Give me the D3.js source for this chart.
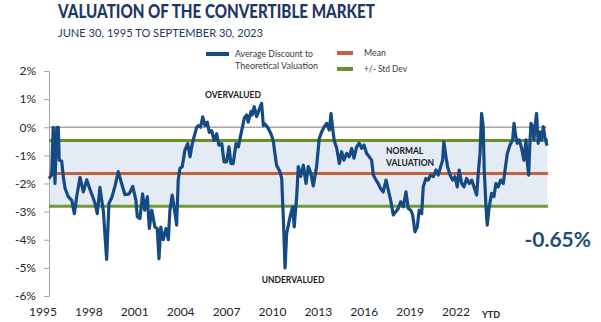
<!DOCTYPE html>
<html>
<head>
<meta charset="utf-8">
<script src="https://cdn.jsdelivr.net/npm/d3@7/dist/d3.min.js"></script>
<style>
  body { margin: 0; background: #fff; }
  svg { display: block; font-family: Lato, "Open Sans", sans-serif; }
</style>
</head>
<body>
<script>
// decimal year of each reading
const years = [
  1995.5, 1995.65, 1995.74, 1995.84, 1995.94, 1996.03, 1996.08, 1996.22, 1996.31, 1996.41,
  1996.59, 1996.79, 1996.94, 1997.07, 1997.26, 1997.45, 1997.64, 1997.83, 1997.98, 1998.11,
  1998.24, 1998.39, 1998.49, 1998.58, 1998.77, 1998.9, 1999.06, 1999.24, 1999.43, 1999.62,
  1999.81, 2000.05, 2000.25, 2000.43, 2000.51, 2000.66, 2000.81, 2000.93, 2001.08, 2001.19,
  2001.33, 2001.51, 2001.64, 2001.74, 2001.84, 2001.98, 2002.14, 2002.27, 2002.36, 2002.49,
  2002.65, 2002.74, 2002.83, 2002.93, 2003.06, 2003.21, 2003.37, 2003.5, 2003.63, 2003.78,
  2003.88, 2003.97, 2004.1, 2004.22, 2004.35, 2004.48, 2004.59, 2004.73, 2004.86, 2005.01,
  2005.14, 2005.3, 2005.43, 2005.58, 2005.71, 2005.82, 2005.95, 2006.11, 2006.24, 2006.43,
  2006.58, 2006.71, 2006.8, 2006.96, 2007.03, 2007.14, 2007.28, 2007.41, 2007.56, 2007.66,
  2007.75, 2007.9, 2008.09, 2008.22, 2008.32, 2008.41, 2008.6, 2008.7, 2008.79, 2008.89,
  2008.98, 2009.17, 2009.32, 2009.41, 2009.55, 2009.64, 2009.78, 2009.93, 2010.08, 2010.21,
  2010.36, 2010.49, 2010.68, 2010.83, 2010.97, 2011.1, 2011.25, 2011.4, 2011.5, 2011.59,
  2011.68, 2011.82, 2011.97, 2012.1, 2012.23, 2012.39, 2012.53, 2012.67, 2012.8, 2012.95,
  2013.1, 2013.24, 2013.37, 2013.52, 2013.67, 2013.8, 2013.9, 2014.05, 2014.18, 2014.31,
  2014.46, 2014.62, 2014.75, 2014.88, 2015.03, 2015.18, 2015.31, 2015.45, 2015.6, 2015.75,
  2015.88, 2016.02, 2016.13, 2016.26, 2016.39, 2016.5, 2016.64, 2016.73, 2016.88, 2017.01,
  2017.15, 2017.3, 2017.45, 2017.58, 2017.72, 2017.83, 2017.9, 2018.02, 2018.11, 2018.25,
  2018.4, 2018.53, 2018.66, 2018.77, 2018.91, 2019.04, 2019.19, 2019.34, 2019.48, 2019.61,
  2019.76, 2019.85, 2019.95, 2020.04, 2020.13, 2020.19, 2020.29, 2020.36, 2020.47, 2020.61,
  2020.74, 2020.85, 2020.98, 2021.12, 2021.27, 2021.37, 2021.5, 2021.65, 2021.8, 2021.88,
  2021.97, 2022.06, 2022.18, 2022.31, 2022.44, 2022.56, 2022.63, 2022.71, 2022.78, 2022.84,
  2022.94, 2023.01, 2023.09, 2023.16, 2023.25, 2023.35, 2023.44, 2023.54, 2023.63, 2023.75
];

// average discount to theoretical valuation, %
const discount = [
  -1.82, -1.7, 0.0, -2.0, 0.0, 0.0, -1.17, -1.2, -1.76, -2.17,
  -2.47, -2.6, -3.07, -2.47, -1.78, -2.3, -1.87, -2.22, -2.47, -2.71,
  -3.07, -2.14, -2.6, -2.95, -4.7, -2.71, -2.5, -2.1, -1.58, -2.0,
  -2.4, -2.37, -2.1, -2.6, -3.18, -3.25, -2.37, -2.95, -2.47, -3.6,
  -2.95, -3.55, -3.6, -4.67, -3.55, -4.0, -3.6, -4.0, -2.95, -2.41,
  -3.07, -3.48, -1.88, -1.46, -1.4, -0.81, -0.58, -1.05, -0.58, -0.22,
  0.0, 0.06, 0.0, 0.37, 0.06, 0.18, -0.18, -0.12, -0.47, -0.23,
  -0.64, -0.58, -1.23, -1.23, -0.7, -1.29, -1.29, -0.58, -0.7, -0.12,
  0.32, 0.44, 0.18, 0.56, 0.44, 0.73, 0.38, 0.61, 0.85, 0.06,
  0.12, 0.0, -0.23, -0.47, -0.95, -1.35, -1.58, -1.82, -3.18, -5.0,
  -3.78, -3.2, -2.83, -3.54, -2.47, -1.4, -1.75, -1.35, -2.0, -1.4,
  -1.65, -2.09, -1.4, -0.4, -0.16, 0.0, 0.14, -0.1, 0.49, -0.05,
  -0.47, -0.75, -1.29, -0.87, -1.17, -0.93, -1.05, -0.75, -1.1, -0.7,
  -0.57, -0.75, -0.63, -0.93, -1.05, -1.17, -1.7, -1.88, -2.0, -2.18,
  -2.3, -1.88, -2.24, -2.59, -3.12, -3.0, -2.89, -2.65, -2.83, -2.3,
  -2.89, -2.95, -3.12, -3.72, -3.54, -2.95, -3.07, -2.12, -1.82, -1.88,
  -1.7, -1.76, -1.52, -1.7, -1.4, -1.17, -0.52, -1.05, -1.4, -1.7,
  -1.88, -1.76, -2.12, -1.52, -2.0, -2.12, -1.82, -2.0, -1.88, -2.12,
  -2.41, -1.64, -0.93, 0.49, 0.02, -1.52, -2.83, -3.48, -2.83, -2.35,
  -2.47, -2.0, -2.12, -1.88, -2.0, -1.52, -0.93, -0.63, -0.45, 0.14,
  -0.28, -0.57, -0.45, -0.75, -1.17, -0.45, -1.23, -1.7, -0.57, 0.14,
  0.02, -0.45, 0.14, 0.49, -0.57, -0.16, -0.45, 0.02, -0.34, -0.65
];

const meanValue = -1.64;
const stdUpper = -0.47;
const stdLower = -2.81;
const yTicks = [2, 1, 0, -1, -2, -3, -4, -5, -6];
const xLabels = ['1995', '1998', '2001', '2004', '2007', '2010', '2013', '2016', '2019', '2022'];
const lastValue = '-0.65%';

const width = 601;
const height = 322;
const navy = '#1f3864';
const lineColor = '#164a82';

const svg = d3.select('body')
  .append('svg')
  .attr('width', width)
  .attr('height', height);

const x = d3.scaleLinear().domain([1995.5, 2023.75]).range([49, 547]);
const y = d3.scaleLinear().domain([-6, 2]).range([296, 71]);
const xLab = d3.scalePoint().domain(xLabels).range([43, 456]);

// title block
svg.append('text')
  .attr('x', 58).attr('y', 18)
  .attr('fill', navy)
  .attr('font-size', 19).attr('font-weight', 900)
  .attr('textLength', 317).attr('lengthAdjust', 'spacingAndGlyphs')
  .text('VALUATION OF THE CONVERTIBLE MARKET');

svg.append('text')
  .attr('x', 58).attr('y', 37)
  .attr('fill', navy)
  .attr('font-size', 11.5)
  .attr('textLength', 205).attr('lengthAdjust', 'spacingAndGlyphs')
  .text('JUNE 30, 1995 TO SEPTEMBER 30, 2023');

// band between +/- std dev
svg.append('rect')
  .attr('x', x.range()[0])
  .attr('y', y(stdUpper))
  .attr('width', x.range()[1] - x.range()[0])
  .attr('height', y(stdLower) - y(stdUpper))
  .attr('fill', '#e4ebf5');

// zero line
svg.append('line')
  .attr('x1', x.range()[0]).attr('x2', x.range()[1])
  .attr('y1', y(0)).attr('y2', y(0))
  .attr('stroke', '#a6a6a6').attr('stroke-width', 1.3);

// y axis
const yAxis = svg.append('g')
  .attr('transform', `translate(${x.range()[0]},0)`)
  .call(d3.axisLeft(y).tickValues(yTicks).tickSize(5).tickPadding(8).tickFormat(d => d + '%'));
yAxis.select('.domain').attr('stroke', '#a6a6a6');
yAxis.selectAll('.tick line').attr('stroke', '#a6a6a6');
yAxis.selectAll('.tick text')
  .attr('font-size', 12).attr('fill', '#262626')
  .attr('font-family', 'Lato, sans-serif');

// mean and std lines
const refLines = [
  { v: stdUpper, c: '#6a9028' },
  { v: stdLower, c: '#6f9a3a' },
  { v: meanValue, c: '#c4603a' }
];
svg.selectAll('.ref')
  .data(refLines)
  .join('line')
  .attr('class', 'ref')
  .attr('x1', x.range()[0]).attr('x2', x.range()[1] + 1)
  .attr('y1', d => y(d.v)).attr('y2', d => y(d.v))
  .attr('stroke', d => d.c)
  .attr('stroke-width', 3);

// main series
const series = years.map((yr, i) => ({ t: yr, v: discount[i] }));
svg.append('path')
  .datum(series)
  .attr('fill', 'none')
  .attr('stroke', lineColor)
  .attr('stroke-width', 3.2)
  .attr('stroke-linejoin', 'round')
  .attr('d', d3.line().x(d => x(d.t)).y(d => y(d.v)));

// x labels
svg.append('g')
  .selectAll('text')
  .data(xLabels)
  .join('text')
  .attr('x', d => xLab(d))
  .attr('y', 316)
  .attr('text-anchor', 'middle')
  .attr('font-size', 12).attr('fill', '#262626')
  .text(d => d);

svg.append('text')
  .attr('x', 491).attr('y', 318)
  .attr('text-anchor', 'middle')
  .attr('font-size', 9).attr('font-weight', 700).attr('fill', '#262626')
  .text('YTD');

// annotations
const notes = [
  { t: 'OVERVALUED', x: 233, y: 98, a: 'middle' },
  { t: 'UNDERVALUED', x: 293, y: 283, a: 'middle' },
  { t: 'NORMAL', x: 386, y: 154, a: 'start' },
  { t: 'VALUATION', x: 386, y: 166, a: 'start' }
];
svg.selectAll('.note')
  .data(notes)
  .join('text')
  .attr('class', 'note')
  .attr('x', d => d.x).attr('y', d => d.y)
  .attr('text-anchor', d => d.a)
  .attr('font-size', 8.5).attr('font-weight', 700).attr('fill', '#1a1a1a')
  .text(d => d.t);

svg.append('text')
  .attr('x', 591).attr('y', 247)
  .attr('text-anchor', 'end')
  .attr('font-size', 21).attr('font-weight', 700).attr('fill', '#1f4e79')
  .text(lastValue);

// legend
const legendItems = [
  { t: 'Average Discount to', x: 235, y: 57, w: 78 },
  { t: 'Theoretical Valuation', x: 235, y: 69, w: 83 },
  { t: 'Mean', x: 364, y: 56, w: 22 },
  { t: '+/- Std Dev', x: 364, y: 72, w: 43 }
];
const legend = svg.append('g').attr('font-size', 10).attr('fill', '#3a3a3a');
legend.append('line').attr('x1', 206).attr('x2', 229).attr('y1', 54).attr('y2', 54)
  .attr('stroke', lineColor).attr('stroke-width', 4);
legend.append('line').attr('x1', 337).attr('x2', 353).attr('y1', 53).attr('y2', 53)
  .attr('stroke', '#c4603a').attr('stroke-width', 4);
legend.append('line').attr('x1', 337).attr('x2', 353).attr('y1', 69).attr('y2', 69)
  .attr('stroke', '#6a9028').attr('stroke-width', 4);
legend.selectAll('text')
  .data(legendItems)
  .join('text')
  .attr('x', d => d.x).attr('y', d => d.y)
  .attr('textLength', d => d.w).attr('lengthAdjust', 'spacingAndGlyphs')
  .text(d => d.t);
</script>
</body>
</html>
